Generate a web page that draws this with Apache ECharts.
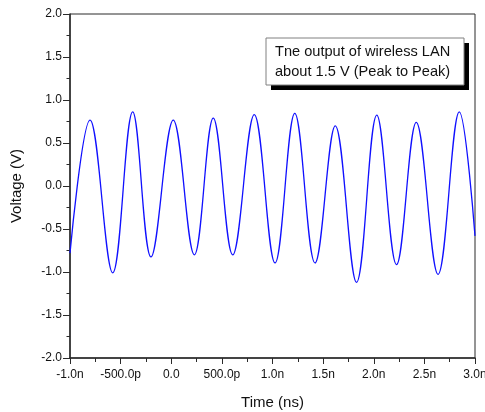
<!DOCTYPE html>
<html>
<head>
<meta charset="utf-8">
<script src="https://cdn.jsdelivr.net/npm/echarts@6/dist/echarts.min.js"></script>
<style>
html,body{margin:0;padding:0;background:#fff;}
#chart{width:485px;height:412px;}
</style>
</head>
<body>
<div id="chart"></div>
<script>
// Time (ns) of each read-off extreme and endpoints
var times = [-1.0, -0.802, -0.578, -0.381, -0.200, 0.020, 0.228, 0.415, 0.607, 0.820, 1.025, 1.220, 1.420, 1.620, 1.830, 2.030, 2.225, 2.420, 2.635, 2.845, 3.0];
// Voltage (V)
var volts = [-0.78, 0.766, -1.01, 0.863, -0.825, 0.766, -0.80, 0.79, -0.80, 0.83, -0.895, 0.844, -0.895, 0.70, -1.12, 0.824, -0.914, 0.739, -1.027, 0.863, -0.58];
var xTickLabels = ['-1.0n', '-500.0p', '0.0', '500.0p', '1.0n', '1.5n', '2.0n', '2.5n', '3.0n'];
var yTickLabels = ['-2.0', '-1.5', '-1.0', '-0.5', '0.0', '0.5', '1.0', '1.5', '2.0'];
var xAxisName = 'Time (ns)';
var yAxisName = 'Voltage (V)';
var noteLines = ['Tne output of wireless LAN', 'about 1.5 V (Peak to Peak)'];

var seriesData = times.map(function (t, i) { return [t, volts[i]]; });
var axisColor = '#2a2a2a';
var font = 'Liberation Sans, Arial, sans-serif';

var chart = echarts.init(document.getElementById('chart'), null, {renderer: 'canvas'});
chart.setOption({
  animation: false,
  backgroundColor: '#ffffff',
  grid: {left: 70, top: 14, right: 10, bottom: 54, containLabel: false, outerBoundsMode: 'none', show: true, borderColor: axisColor, borderWidth: 1, backgroundColor: 'transparent'},
  xAxis: {
    type: 'value', min: -1, max: 3, interval: 0.5,
    name: xAxisName, nameLocation: 'middle', nameGap: 37,
    nameTextStyle: {fontFamily: font, fontSize: 15, color: '#111'},
    axisLine: {show: true, onZero: false, lineStyle: {color: axisColor, width: 1.5}},
    axisTick: {show: true, length: 6, lineStyle: {color: axisColor, width: 1}},
    minorTick: {show: true, splitNumber: 2, length: 4, lineStyle: {color: axisColor, width: 1}},
    splitLine: {show: false},
    axisLabel: {
      margin: 11, fontFamily: font, fontSize: 12, color: '#111',
      formatter: function (v) { return xTickLabels[Math.round((v + 1) / 0.5)]; }
    }
  },
  yAxis: {
    type: 'value', min: -2, max: 2, interval: 0.5,
    name: yAxisName, nameLocation: 'middle', nameGap: 46, nameRotate: 90,
    nameTextStyle: {fontFamily: font, fontSize: 15, color: '#111'},
    axisLine: {show: true, onZero: false, lineStyle: {color: axisColor, width: 1.5}},
    axisTick: {show: true, length: 7, lineStyle: {color: axisColor, width: 1}},
    minorTick: {show: true, splitNumber: 2, length: 3.5, lineStyle: {color: axisColor, width: 1}},
    splitLine: {show: false},
    axisLabel: {
      margin: 8, fontFamily: font, fontSize: 12, color: '#111',
      formatter: function (v) { return yTickLabels[Math.round((v + 2) / 0.5)]; }
    }
  },
  series: [{
    type: 'line',
    data: seriesData,
    smooth: 0.38,
    showSymbol: false,
    lineStyle: {color: '#1010ff', width: 1.3}
  }],
  graphic: [
    {type: 'rect', shape: {x: 271, y: 43, width: 198, height: 47}, style: {fill: '#000'}},
    {type: 'rect', shape: {x: 266, y: 38, width: 198, height: 47}, style: {fill: '#fff', stroke: '#808080', lineWidth: 1}},
    {type: 'text', x: 275, y: 42, style: {text: noteLines.join('\n'), fontFamily: font, fontSize: 14.6, lineHeight: 20, fill: '#111'}}
  ]
});
</script>
</body>
</html>
